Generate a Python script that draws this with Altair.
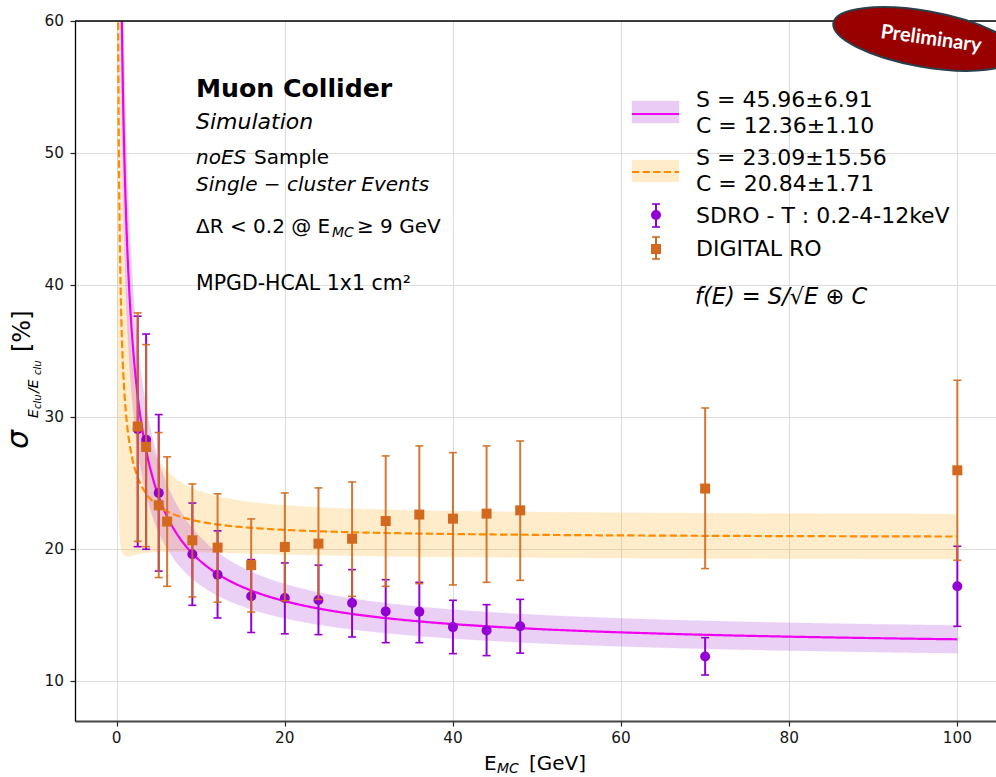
import altair as alt
import numpy as np
import pandas as pd

# ---------------- data ----------------
E_SDRO = [2.5, 3.5, 5, 9, 12, 16, 20, 24, 28, 32, 36, 40, 44, 48, 70, 100]
RES_SDRO = [29.1, 28.3, 24.27, 19.62, 18.08, 16.44, 16.31, 16.16, 15.93, 15.3, 15.28, 14.11, 13.86, 14.17, 11.89, 17.2]
HI_SDRO = [37.65, 36.3, 30.2, 23.5, 21.4, 19.22, 18.97, 18.8, 18.46, 17.7, 17.5, 16.14, 15.81, 16.21, 13.31, 20.23]
LO_SDRO = [20.2, 20.0, 18.35, 15.76, 14.8, 13.7, 13.6, 13.54, 13.36, 12.93, 12.93, 12.1, 11.95, 12.14, 10.48, 14.17]

E_DIG = [2.5, 3.5, 5, 6, 9, 12, 16, 20, 24, 28, 32, 36, 40, 44, 48, 70, 100]
RES_DIG = [29.3, 27.75, 23.33, 22.1, 20.68, 20.13, 18.8, 20.18, 20.43, 20.8, 22.14, 22.63, 22.32, 22.7, 22.95, 24.6, 25.98]
HI_DIG = [37.9, 35.5, 28.84, 27.0, 24.95, 24.2, 22.3, 24.27, 24.65, 25.1, 27.07, 27.83, 27.32, 27.83, 28.2, 30.7, 32.8]
LO_DIG = [20.6, 20.2, 17.86, 17.2, 16.4, 16.0, 15.25, 16.1, 16.2, 16.44, 17.2, 17.4, 17.3, 17.5, 17.65, 18.54, 19.17]

# fit parameters (shown in the legend)
S_SDRO, S_SDRO_ERR = 45.96, 6.91
C_SDRO, C_SDRO_ERR = 12.36, 1.10
S_DIG, S_DIG_ERR = 23.09, 15.56
C_DIG, C_DIG_ERR = 20.84, 1.71

X_TICKS = [0, 20, 40, 60, 80, 100]
Y_TICKS = [10, 20, 30, 40, 50, 60]
X_DOMAIN = [-4.96, 104.6]
Y_DOMAIN = [7, 60]

# ---------------- layout ----------------
PL, PT = 75, 21          # plot-area origin in the window
W, H = 921, 700

FONT = "DejaVu Sans"
TICK_FS = 15.3

# fit curves f(E) = S/sqrt(E) (+) C with propagated band
E_GRID = np.concatenate([np.geomspace(0.1, 5, 300), np.linspace(5, 100, 400)[1:]])


def fit_curve(E, S, sS, C, sC):
    f = np.sqrt(S ** 2 / E + C ** 2)
    dS = (S / E) / f * sS
    dC = C / f * sC
    err = np.sqrt(dS ** 2 + dC ** 2)
    return f, f - err, f + err


fp, lp, hp = fit_curve(E_GRID, S_SDRO, S_SDRO_ERR, C_SDRO, C_SDRO_ERR)
fo, lo, ho = fit_curve(E_GRID, S_DIG, S_DIG_ERR, C_DIG, C_DIG_ERR)
curves = pd.DataFrame({"E": E_GRID, "fp": fp, "lp": lp, "hp": hp, "fo": fo, "lo": lo, "ho": ho})

sdro = pd.DataFrame({"E": E_SDRO, "r": RES_SDRO, "hi": HI_SDRO, "lo": LO_SDRO})
dig = pd.DataFrame({"E": E_DIG, "r": RES_DIG, "hi": HI_DIG, "lo": LO_DIG})

PURPLE = "#9400d3"
MAGENTA = "#f000f0"
ORANGE = "#ffa500"
DORANGE = "#ff8c00"
CHOC = "#d2691e"

xs = alt.Scale(domain=X_DOMAIN, nice=False, zero=False)
ys = alt.Scale(domain=Y_DOMAIN, nice=False, zero=False)

x_axis = alt.Axis(values=X_TICKS, title=None, grid=True, labels=False,
                  domainColor="#444444", domainWidth=1.8)
y_axis = alt.Axis(values=Y_TICKS, title=None, grid=True, labels=False,
                  domainColor="#000000", domainWidth=1.3)


def X(field):
    return alt.X(field, type="quantitative", scale=xs, axis=x_axis)


def Y(field):
    return alt.Y(field, type="quantitative", scale=ys, axis=y_axis)


base_c = alt.Chart(curves)

band_o = base_c.mark_area(clip=True, color=ORANGE, opacity=0.2, stroke=ORANGE, strokeOpacity=0.25,
                          strokeWidth=1).encode(x=X("E"), y=Y("lo"), y2="ho")
band_p = base_c.mark_area(clip=True, color=PURPLE, opacity=0.18, stroke=PURPLE, strokeOpacity=0.2,
                          strokeWidth=1).encode(x=X("E"), y=Y("lp"), y2="hp")
line_p = base_c.mark_line(clip=True, color=MAGENTA, strokeWidth=2.2).encode(x=X("E"), y=Y("fp"))
line_o = base_c.mark_line(clip=True, color=DORANGE, strokeWidth=2.2, strokeDash=[7.4, 3.2]).encode(
    x=X("E"), y=Y("fo"))


def series_layers(df, color, shape, op=1.0):
    b = alt.Chart(df)
    bar = b.mark_rule(color=color, strokeWidth=2, opacity=op).encode(x=X("E"), y=Y("lo"), y2="hi")
    cap_hi = b.mark_tick(color=color, orient="horizontal", size=8, thickness=1.6, opacity=op).encode(
        x=X("E"), y=Y("hi"))
    cap_lo = b.mark_tick(color=color, orient="horizontal", size=8, thickness=1.6, opacity=op).encode(
        x=X("E"), y=Y("lo"))
    pt = b.mark_point(shape=shape, filled=True, color=color, size=100, opacity=1).encode(
        x=X("E"), y=Y("r"))
    return [bar, cap_hi, cap_lo, pt]


sdro_layers = series_layers(sdro, PURPLE, "circle")
dig_layers = series_layers(dig, CHOC, "square", 0.9)

# tick labels drawn as text placed through the scales
xlab = alt.Chart(pd.DataFrame({"v": X_TICKS})).mark_text(
    font=FONT, fontSize=TICK_FS, color="#151515", align="center", baseline="top").encode(
    x=X("v"), y=alt.value(H + 10), text=alt.Text("v:Q", format="d"))
ylab = alt.Chart(pd.DataFrame({"v": Y_TICKS})).mark_text(
    font=FONT, fontSize=TICK_FS, color="#151515", align="right", baseline="middle").encode(
    y=Y("v"), x=alt.value(-11), text=alt.Text("v:Q", format="d"))


# ---------------- annotation helpers (pixel placement) ----------------
def txt(s, x, y, size=20, style="normal", weight="normal", align="left", baseline="alphabetic",
        angle=0, color="#000000", font=FONT):
    return alt.Chart(pd.DataFrame({"label": [s]})).mark_text(
        font=font, fontSize=size, fontStyle=style, fontWeight=weight, align=align,
        baseline=baseline, angle=angle, color=color).encode(
        text="label:N", x=alt.value(x - PL), y=alt.value(y - PT))


one = pd.DataFrame({"k": [0]})

annots = [
    txt("Muon Collider", 196, 97, 25.2, weight="bold"),
    txt("Simulation", 196, 129, 22, style="italic"),
    txt("noES", 196, 164, 20, style="italic"),
    txt("Sample", 254, 164, 20),
    txt("Single \u2212 cluster Events", 196, 191, 20, style="italic"),
    txt("\u0394R < 0.2 @ E", 196, 233, 20),
    txt("MC", 332, 237, 14, style="italic"),
    txt("\u2265 9 GeV", 357, 233, 20),
    txt("MPGD-HCAL 1x1 cm\u00b2", 196, 290, 20.5),
    # legend text
    txt(f"S = {S_SDRO:.2f}\u00b1{S_SDRO_ERR:.2f}", 696, 107, 22),
    txt(f"C = {C_SDRO:.2f}\u00b1{C_SDRO_ERR:.2f}", 696, 133, 22),
    txt(f"S = {S_DIG:.2f}\u00b1{S_DIG_ERR:.2f}", 696, 165, 22),
    txt(f"C = {C_DIG:.2f}\u00b1{C_DIG_ERR:.2f}", 696, 191, 22),
    txt("SDRO - T : 0.2-4-12keV", 696, 223, 22),
    txt("DIGITAL RO", 696, 256, 22),
    txt("f(E) = S/\u221aE \u2295 C", 695, 304, 22.5, style="italic"),
    # y title pieces (rotated)
    txt("\u03c3", 28, 449, 30, style="italic", angle=270),
    txt("E", 38, 418, 14, style="italic", angle=270),
    txt("clu", 41, 409, 10, style="italic", angle=270),
    txt("/E", 38, 393, 14, style="italic", angle=270),
    txt("clu", 41, 375, 10, style="italic", angle=270),
    txt("[%]", 30, 352, 24, angle=270),
    # x title pieces
    txt("E", 484, 770, 20),
    txt("MC", 497, 773, 14, style="italic"),
    txt("[GeV]", 529, 770, 20),
]

# legend handles
leg = [
    alt.Chart(one).mark_rect(color=PURPLE, opacity=0.2, stroke=PURPLE, strokeOpacity=0.35).encode(
        x=alt.value(632 - PL), x2=alt.value(679 - PL), y=alt.value(101 - PT), y2=alt.value(123 - PT)),
    alt.Chart(one).mark_rule(color=MAGENTA, strokeWidth=2).encode(
        x=alt.value(632 - PL), x2=alt.value(679 - PL), y=alt.value(114 - PT)),
    alt.Chart(one).mark_rect(color=ORANGE, opacity=0.2, stroke=ORANGE, strokeOpacity=0.35).encode(
        x=alt.value(632 - PL), x2=alt.value(679 - PL), y=alt.value(160 - PT), y2=alt.value(182 - PT)),
    alt.Chart(one).mark_rule(color=DORANGE, strokeWidth=2, strokeDash=[7.4, 3.2]).encode(
        x=alt.value(632 - PL), x2=alt.value(679 - PL), y=alt.value(172 - PT)),
]
for cy, ytop, ybot, col, shp in [(215, 204, 227, PURPLE, "circle"), (249, 237, 259, CHOC, "square")]:
    leg.append(alt.Chart(one).mark_rule(color=col, strokeWidth=2).encode(
        x=alt.value(656 - PL), y=alt.value(ytop - PT), y2=alt.value(ybot - PT)))
    leg.append(alt.Chart(one).mark_rule(color=col, strokeWidth=1.6).encode(
        x=alt.value(652 - PL), x2=alt.value(660 - PL), y=alt.value(ytop - PT)))
    leg.append(alt.Chart(one).mark_rule(color=col, strokeWidth=1.6).encode(
        x=alt.value(652 - PL), x2=alt.value(660 - PL), y=alt.value(ybot - PT)))
    leg.append(alt.Chart(one).mark_point(shape=shp, filled=True, color=col, size=100, opacity=1).encode(
        x=alt.value(656 - PL), y=alt.value(cy - PT)))

# top spine
spine_top = alt.Chart(one).mark_rule(color="#000000", strokeWidth=1.3).encode(
    x=alt.value(0), x2=alt.value(W), y=alt.value(0))

# "Preliminary" badge
ELLIPSE = "M -1 0 A 1 0.3 0 1 1 1 0 A 1 0.3 0 1 1 -1 0 Z"
badge = alt.Chart(one).mark_point(shape=ELLIPSE, filled=True, fill="#990000", stroke="#2c3e4a",
                                  strokeWidth=2, size=186 ** 2, angle=10, opacity=1,
                                  fillOpacity=1, strokeOpacity=1).encode(
    x=alt.value(925 - PL), y=alt.value(39 - PT))
badge_txt = txt("Preliminary", 931, 39, 20, weight="bold", align="center", baseline="middle",
                angle=8, color="#ffffff", font="Lato")

chart = alt.layer(
    band_o, band_p, line_p, line_o, *sdro_layers, *dig_layers, xlab, ylab, spine_top, *leg, *annots,
    badge, badge_txt
).properties(
    width=W, height=H,
    autosize=alt.AutoSizeParams(type="none"),
    padding={"left": PL, "top": PT, "right": 0, "bottom": 777 - PT - H},
    background="white",
).configure_view(stroke=None).configure_axis(
    tickColor="#222222", tickSize=5, tickWidth=1.2,
    gridColor="#dddddd", gridWidth=1,
)

chart.save("out.html", embed_options={"renderer": "svg", "actions": False})
